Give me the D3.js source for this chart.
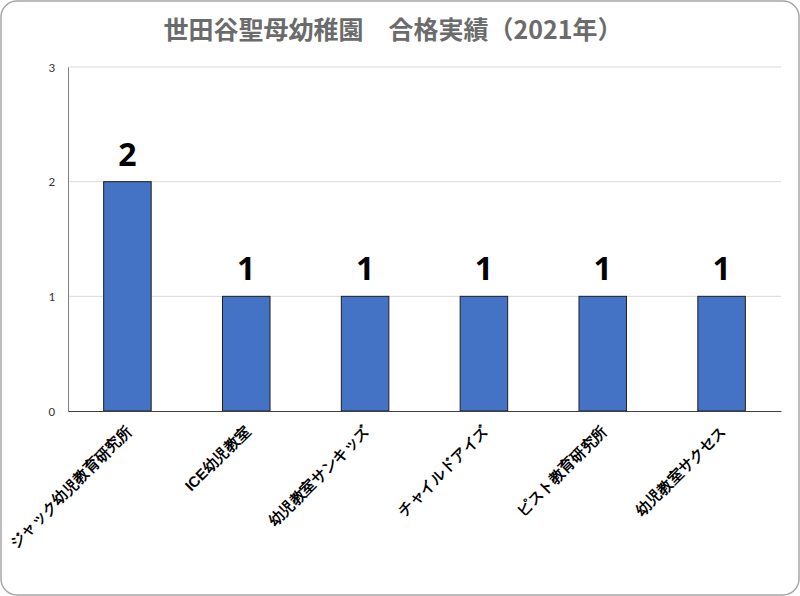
<!DOCTYPE html>
<html lang="ja">
<head>
  <meta charset="UTF-8" />
  <title>世田谷聖母幼稚園 合格実績（2021年）</title>
  <script src="https://d3js.org/d3.v7.min.js"></script>
  <style>
    body { margin: 0; background: #fff; }
    svg { display: block; font-family: "Noto Sans CJK JP", "Noto Sans", sans-serif; }
  </style>
</head>
<body>
  <div id="chart"></div>
  <script>
    // --- chart data ---
    const schools = ["ジャック幼児教育研究所", "ICE幼児教室", "幼児教室サンキッズ", "チャイルドアイズ", "ピスト教育研究所", "幼児教室サクセス"];
    const passes = [2, 1, 1, 1, 1, 1];
    const yTicks = [0, 1, 2, 3];
    const title = "世田谷聖母幼稚園　合格実績（2021年）";

    const W = 800, H = 596;
    const margin = { top: 67, right: 19, bottom: 185, left: 68 };
    const width = W - margin.left - margin.right,
          height = H - margin.top - margin.bottom;

    const svg = d3.select("#chart").append("svg")
      .attr("width", W).attr("height", H);

    // outer rounded frame
    svg.append("rect")
      .attr("x", 1).attr("y", 1)
      .attr("width", W - 2).attr("height", H - 2)
      .attr("rx", 16)
      .attr("fill", "#fff").attr("stroke", "#a6a6a6").attr("stroke-width", 1.5);

    svg.append("text")
      .attr("x", 393).attr("y", 39)
      .attr("text-anchor", "middle")
      .attr("font-size", 25).attr("font-weight", "bold")
      .attr("fill", "#6b6b6b")
      .text(title);

    const g = svg.append("g").attr("transform", `translate(${margin.left},${margin.top})`);

    const x = d3.scaleBand().domain(schools).range([0, width]).paddingInner(0.6).paddingOuter(0.3);
    const y = d3.scaleLinear().domain([0, 3]).range([height, 0]);

    // gridlines
    g.append("g")
      .selectAll("line")
      .data(yTicks.filter(d => d > 0))
      .join("line")
      .attr("x1", 0).attr("x2", width)
      .attr("y1", d => y(d)).attr("y2", d => y(d))
      .attr("stroke", "#d9d9d9");

    // y axis
    const yAxis = g.append("g")
      .call(d3.axisLeft(y).tickValues(yTicks).tickFormat(d3.format("d")).tickSize(0).tickPadding(13));
    yAxis.select(".domain").attr("stroke", "#7f7f7f");
    yAxis.selectAll("text").attr("font-size", 13).attr("fill", "#333")
      .attr("font-family", "Carlito, 'Liberation Sans', sans-serif");

    // bars
    g.selectAll(".bar")
      .data(passes)
      .join("rect")
      .attr("class", "bar")
      .attr("x", (d, i) => x(schools[i]))
      .attr("y", d => y(d))
      .attr("width", x.bandwidth())
      .attr("height", d => height - y(d))
      .attr("fill", "#4472c4")
      .attr("stroke", "#1f1f1f").attr("stroke-width", 1);

    // value labels
    g.selectAll(".val")
      .data(passes)
      .join("text")
      .attr("class", "val")
      .attr("x", (d, i) => x(schools[i]) + x.bandwidth() / 2)
      .attr("y", d => y(d) - 16)
      .attr("text-anchor", "middle")
      .attr("font-size", 32).attr("font-weight", "bold")
      .attr("font-family", "'Open Sans', 'Noto Sans', sans-serif")
      .attr("fill", "#000")
      .text(d => d);

    // x axis
    const xAxis = g.append("g")
      .attr("transform", `translate(0,${height})`)
      .call(d3.axisBottom(x).tickSize(0).tickPadding(0));
    xAxis.select(".domain").attr("stroke", "#404040");
    xAxis.selectAll("text")
      .attr("font-size", 15).attr("font-weight", "bold")
      .attr("fill", "#000")
      .attr("text-anchor", "end")
      .attr("dy", null)
      .attr("transform", "translate(5,21) rotate(-45)");
  </script>
</body>
</html>
